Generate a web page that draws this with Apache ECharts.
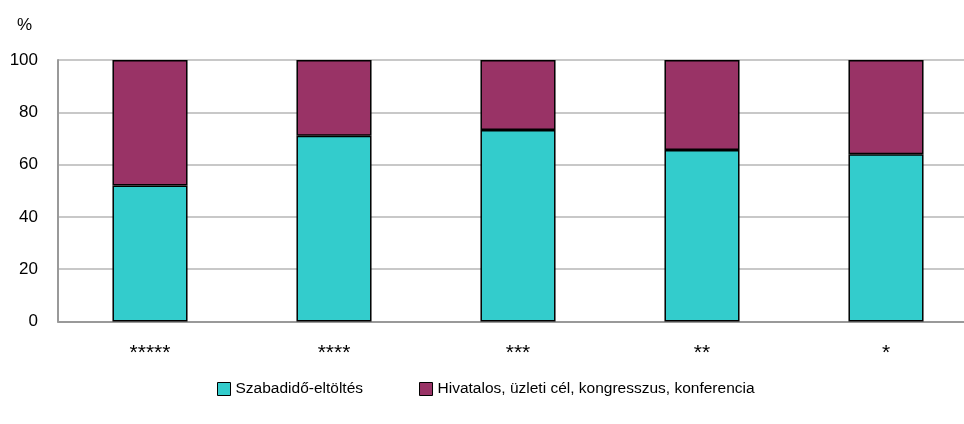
<!DOCTYPE html>
<html><head><meta charset="utf-8">
<script src="https://cdn.jsdelivr.net/npm/echarts@6/dist/echarts.min.js"></script>
<style>html,body{margin:0;padding:0;background:#fff}#c{width:964px;height:424px}</style>
</head><body><div id="c"></div>
<script>
const categories = ['*****', '****', '***', '**', '*'];
const leisure = [52, 71, 73.2, 65.6, 64];
const business = [48, 29, 26.8, 34.4, 36];
const seriesNames = ['Szabadidő-eltöltés', 'Hivatalos, üzleti cél, kongresszus, konferencia'];
const yTicks = [0, 20, 40, 60, 80, 100];
const font = '"Liberation Sans", Arial, sans-serif';
const chart = echarts.init(document.getElementById('c'));
chart.setOption({
  animation: false,
  grid: {left: 58, width: 920, top: 60, bottom: 102.5, containLabel: false, outerBoundsMode: 'none'},
  legend: {
    top: 376, left: 212, itemWidth: 13, itemHeight: 13, itemGap: 56,
    icon: 'rect',
    itemStyle: {borderColor: '#000', borderWidth: 1},
    textStyle: {fontFamily: font, fontSize: 15.5, color: '#000'},
    data: seriesNames
  },
  xAxis: {
    type: 'category', data: categories,
    axisLine: {lineStyle: {color: '#999', width: 2}},
    axisTick: {show: false},
    axisLabel: {fontFamily: font, fontSize: 21, color: '#000', margin: 21}
  },
  yAxis: {
    type: 'value', min: yTicks[0], max: yTicks[yTicks.length - 1], interval: 20,
    name: '%', nameLocation: 'end', nameGap: 26,
    nameTextStyle: {fontFamily: font, fontSize: 17, color: '#000', align: 'right', padding: [0, 26, 0, 0]},
    axisLine: {show: true, lineStyle: {color: '#999', width: 2}},
    axisTick: {show: false},
    splitLine: {lineStyle: {color: '#c8c8c8', width: 2}},
    axisLabel: {fontFamily: font, fontSize: 17, color: '#000', margin: 20, padding: [0, 0, 8, 0]}
  },
  series: [
    {name: seriesNames[0], type: 'bar', stack: 's', data: leisure, barWidth: '40.8%',
     itemStyle: {color: '#33CCCC', borderColor: '#000', borderWidth: 1.5}},
    {name: seriesNames[1], type: 'bar', stack: 's', data: business, barWidth: '40.8%',
     itemStyle: {color: '#993366', borderColor: '#000', borderWidth: 1.5}}
  ]
});
</script></body></html>
